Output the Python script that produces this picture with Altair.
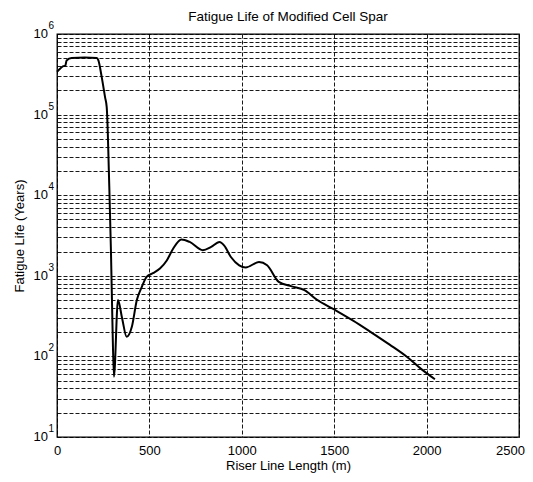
import altair as alt
import pandas as pd

FONT = "Liberation Sans"

# Riser line length (m) and fatigue life (years)
riser_length = [0, 7, 34, 45, 52, 79, 150, 215, 224, 242, 260, 269, 275, 279, 283,
                292, 300, 308, 330, 352, 377, 405, 432, 459, 485, 519, 557, 594,
                629, 673, 718, 789, 834, 879, 905, 941, 986, 1021, 1093, 1137,
                1200, 1270, 1339, 1405, 1500, 1600, 1696, 1800, 1893, 1970, 2045]
fatigue_life = [340000, 353000, 399000, 405000, 470000, 505000, 510000, 505000,
                470000, 292000, 165000, 124000, 58000, 27000, 12600,
                2000, 260, 56, 500, 300, 175, 233, 500, 729, 970, 1077, 1230, 1550,
                2180, 2820, 2630, 2075, 2280, 2630, 2370, 1710, 1350, 1270, 1480, 1350,
                840, 740, 663, 508, 382, 280, 202, 140, 99, 70, 52]

x_ticks = [0, 500, 1000, 1500, 2000, 2500]
decades = [10, 100, 1000, 10000, 100000, 1000000]
exponents = ["1", "2", "3", "4", "5", "6"]

minor_grid = [m * d for d in decades[:-1] for m in range(1, 10)] + [decades[-1]]

df = pd.DataFrame({"length": riser_length, "life": fatigue_life})
lbl = pd.DataFrame({"life": decades, "base": ["10"] * len(decades), "exp": exponents})

xscale = alt.Scale(domain=[0, 2500], nice=False, zero=False)
yscale = alt.Scale(type="log", domain=[10, 1000000], nice=False)

x_axis = alt.Axis(values=x_ticks, title="Riser Line Length (m)", grid=True,
                  gridDash=[4, 2], gridColor="#000", gridWidth=1, gridOpacity=0.9,
                  tickSize=0, domain=False, labelFontSize=13, labelFont=FONT,
                  labelColor="#000", labelPadding=7, labelFlush=False,
                  labelOverlap=False, format="d",
                  labelOffset=alt.ConditionalAxisNumber(
                      condition={"test": "datum.value == 2500", "value": -9}, value=0),
                  titleFontSize=13, titleFont=FONT, titleFontWeight="normal",
                  titleColor="#000", titlePadding=2)
y_axis = alt.Axis(values=minor_grid, labels=False, title="Fatigue Life (Years)",
                  grid=True, gridDash=[4, 2], gridColor="#000", gridWidth=1,
                  gridOpacity=0.9, tickSize=0, domain=False,
                  titleFontSize=13, titleFont=FONT, titleFontWeight="normal",
                  titleColor="#000", titlePadding=30)

line = alt.Chart(df).mark_line(color="black", strokeWidth=2, interpolate="monotone").encode(
    x=alt.X("length:Q", scale=xscale, axis=x_axis),
    y=alt.Y("life:Q", scale=yscale, axis=y_axis),
)

base_text = alt.Chart(lbl).mark_text(align="right", baseline="middle", fontSize=13,
                                     font=FONT, color="#000").encode(
    x=alt.value(-9),
    y=alt.Y("life:Q", scale=yscale, axis=y_axis),
    text="base:N",
)
exp_text = alt.Chart(lbl).mark_text(align="left", baseline="middle", fontSize=10,
                                    font=FONT, color="#000", dy=-8).encode(
    x=alt.value(-8.5),
    y=alt.Y("life:Q", scale=yscale, axis=y_axis),
    text="exp:N",
)

chart = alt.layer(line, base_text, exp_text).properties(
    width=462,
    height=403,
    background="white",
    title=alt.TitleParams("Fatigue Life of Modified Cell Spar", fontSize=13.5, font=FONT,
                          fontWeight="normal", color="#000", offset=0, dy=2),
    autosize=alt.AutoSizeParams(type="none"),
    padding={"left": 49, "top": 26, "right": 6, "bottom": 37},
).configure_view(stroke="black", strokeWidth=1.3)

chart.save("out.html", embed_options={"renderer": "svg", "actions": False})
